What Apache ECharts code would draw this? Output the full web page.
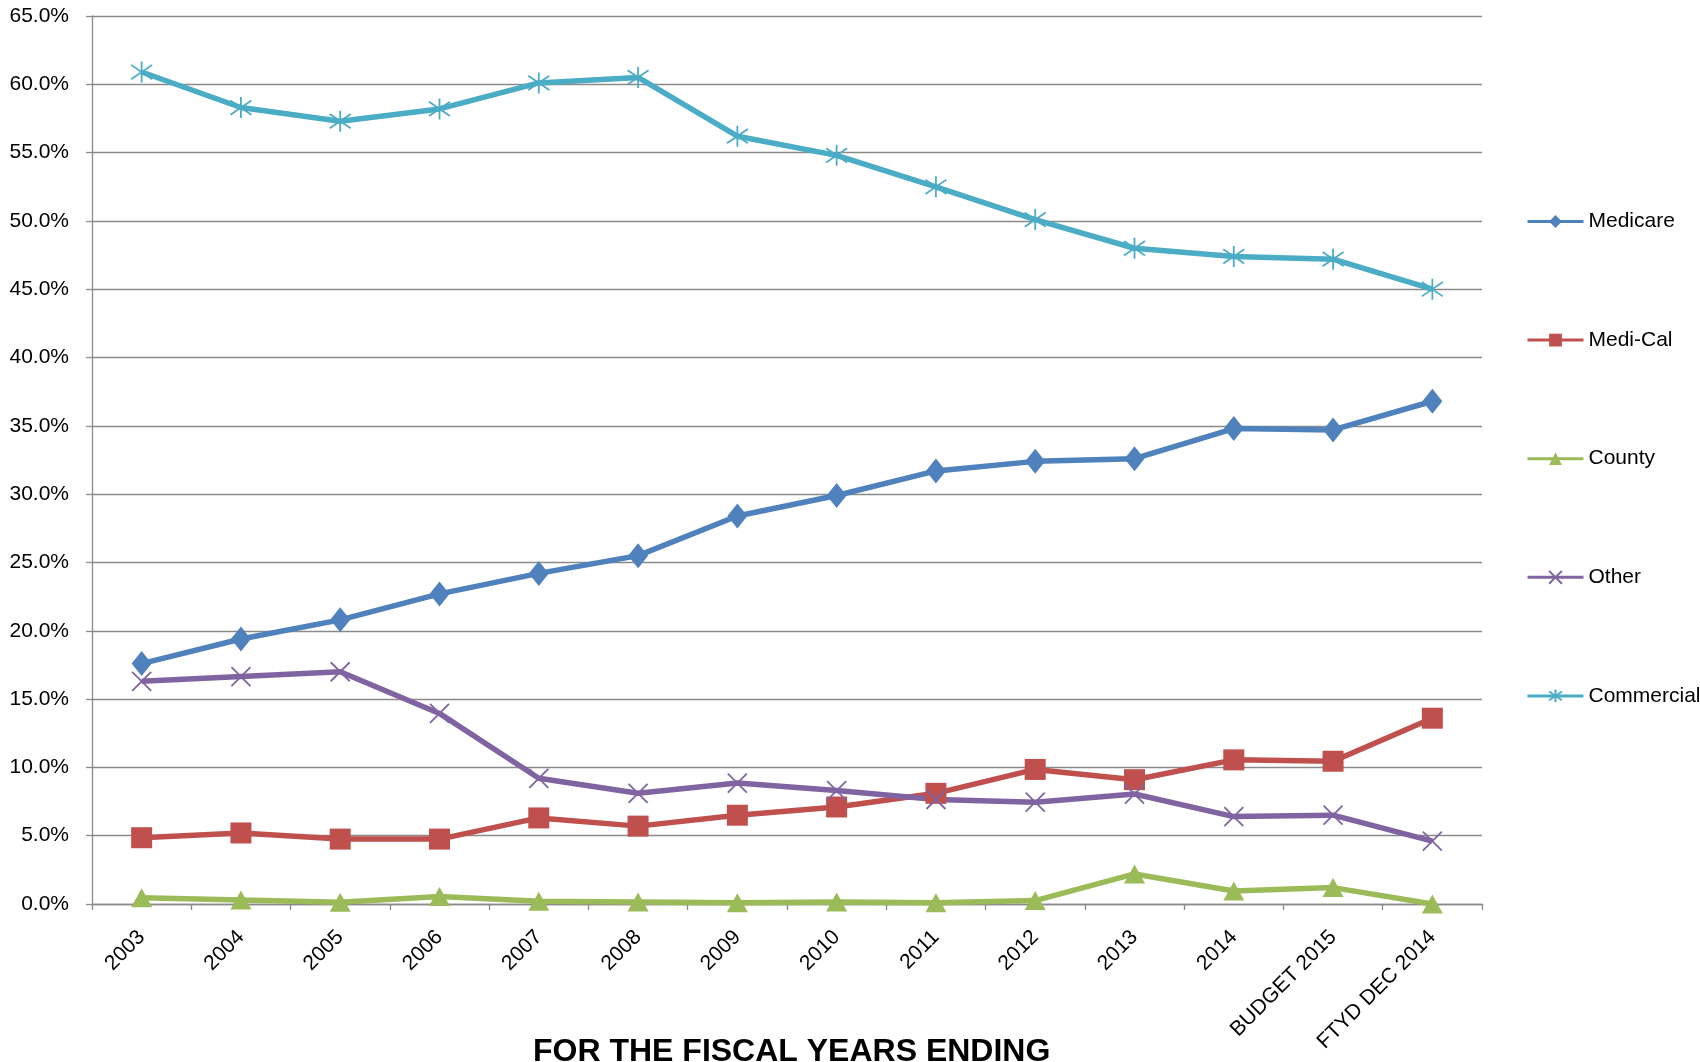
<!DOCTYPE html>
<html>
<head>
<meta charset="utf-8">
<title>Payer Mix</title>
<script src="https://cdn.jsdelivr.net/npm/echarts@6/dist/echarts.min.js"></script>
<style>
  html, body { margin: 0; padding: 0; background: #ffffff; }
  #chart { width: 1700px; height: 1062px; }
</style>
</head>
<body>
<div id="chart"></div>
<script>
// Fiscal year categories
const categories = ['2003', '2004', '2005', '2006', '2007', '2008', '2009', '2010', '2011', '2012', '2013', '2014', 'BUDGET 2015', 'FTYD DEC 2014'];

// Share of revenue by payer, percent
const medicare   = [17.6, 19.4, 20.8, 22.7, 24.2, 25.5, 28.4, 29.9, 31.7, 32.4, 32.6, 34.8, 34.7, 36.8];
const mediCal    = [4.85, 5.2, 4.75, 4.75, 6.3, 5.7, 6.5, 7.1, 8.1, 9.85, 9.1, 10.55, 10.45, 13.6];
const county     = [0.45, 0.3, 0.12, 0.55, 0.2, 0.15, 0.1, 0.15, 0.1, 0.25, 2.2, 0.95, 1.2, 0.0];
const other      = [16.3, 16.65, 17.0, 13.95, 9.2, 8.1, 8.85, 8.3, 7.65, 7.45, 8.05, 6.4, 6.5, 4.6];
const commercial = [60.9, 58.3, 57.3, 58.2, 60.1, 60.5, 56.2, 54.8, 52.5, 50.1, 48.0, 47.4, 47.2, 45.0];

// Y axis range and step, percent
const yMin = 0;
const yMax = 65;
const yStep = 5;

const FONT = "'Liberation Sans', Arial, Helvetica, sans-serif";
const GRID_GRAY = '#8a8a8a';

// Marker shapes
const X_MARK = 'path://M0 0L10 10M10 0L0 10';
const STAR_MARK = 'path://M5 0L5 10M0.6 1.6L9.4 8.4M9.4 1.6L0.6 8.4';

function lineSeries(name, data, color, symbol, size, strokeMark) {
  return {
    name: name,
    type: 'line',
    data: data,
    symbol: symbol,
    symbolSize: size,
    showAllSymbol: true,
    lineStyle: { color: color, width: 5.5 },
    itemStyle: strokeMark
      ? { color: color, borderColor: color, borderWidth: 1.8 }
      : { color: color, borderColor: color, borderWidth: 0 },
    emphasis: { disabled: true },
    z: 2
  };
}

const chart = echarts.init(document.getElementById('chart'), null, { renderer: 'canvas' });

chart.setOption({
  animation: false,
  backgroundColor: '#ffffff',
  grid: { left: 92, right: 218, top: 16, bottom: 158, containLabel: false },
  legend: {
    orient: 'vertical',
    left: 1521,
    top: 206,
    itemWidth: 56,
    itemHeight: 16,
    itemGap: 97.6,
    lineStyle: { width: 3 },
    textStyle: { fontFamily: FONT, fontSize: 21, color: '#000000', lineHeight: 14, padding: [0, 0, 0, 0] },
    selectedMode: false
  },
  xAxis: {
    type: 'category',
    data: categories,
    boundaryGap: true,
    axisLine: { show: true, lineStyle: { color: GRID_GRAY, width: 1.3 } },
    axisTick: { show: true, length: 6, alignWithLabel: false, lineStyle: { color: GRID_GRAY, width: 1.3 } },
    axisLabel: {
      rotate: 45,
      interval: 0,
      margin: 30,
      fontFamily: FONT,
      fontSize: 21,
      color: '#000000'
    }
  },
  yAxis: {
    type: 'value',
    min: yMin,
    max: yMax,
    interval: yStep,
    axisLine: { show: true, lineStyle: { color: GRID_GRAY, width: 1.3 } },
    axisTick: { show: true, length: 6, lineStyle: { color: GRID_GRAY, width: 1.3 } },
    splitLine: { show: true, lineStyle: { color: GRID_GRAY, width: 1.3 } },
    axisLabel: {
      margin: 23,
      fontFamily: FONT,
      fontSize: 21,
      color: '#000000',
      formatter: function (v) { return v.toFixed(1) + '%'; }
    }
  },
  series: [
    lineSeries('Medicare', medicare, '#4F81BD', 'diamond', [20, 25], false),
    lineSeries('Medi-Cal', mediCal, '#C0504D', 'rect', 21, false),
    lineSeries('County', county, '#9BBB59', 'triangle', [21, 19], false),
    lineSeries('Other', other, '#8064A2', X_MARK, 19, true),
    lineSeries('Commercial', commercial, '#4BACC6', STAR_MARK, 21, true)
  ],
  graphic: [
    {
      type: 'text',
      left: 533,
      top: 1036,
      style: {
        text: 'FOR THE FISCAL YEARS ENDING',
        font: "bold 32px 'Liberation Sans', Arial, sans-serif",
        fill: '#000000'
      }
    }
  ]
});
</script>
</body>
</html>
